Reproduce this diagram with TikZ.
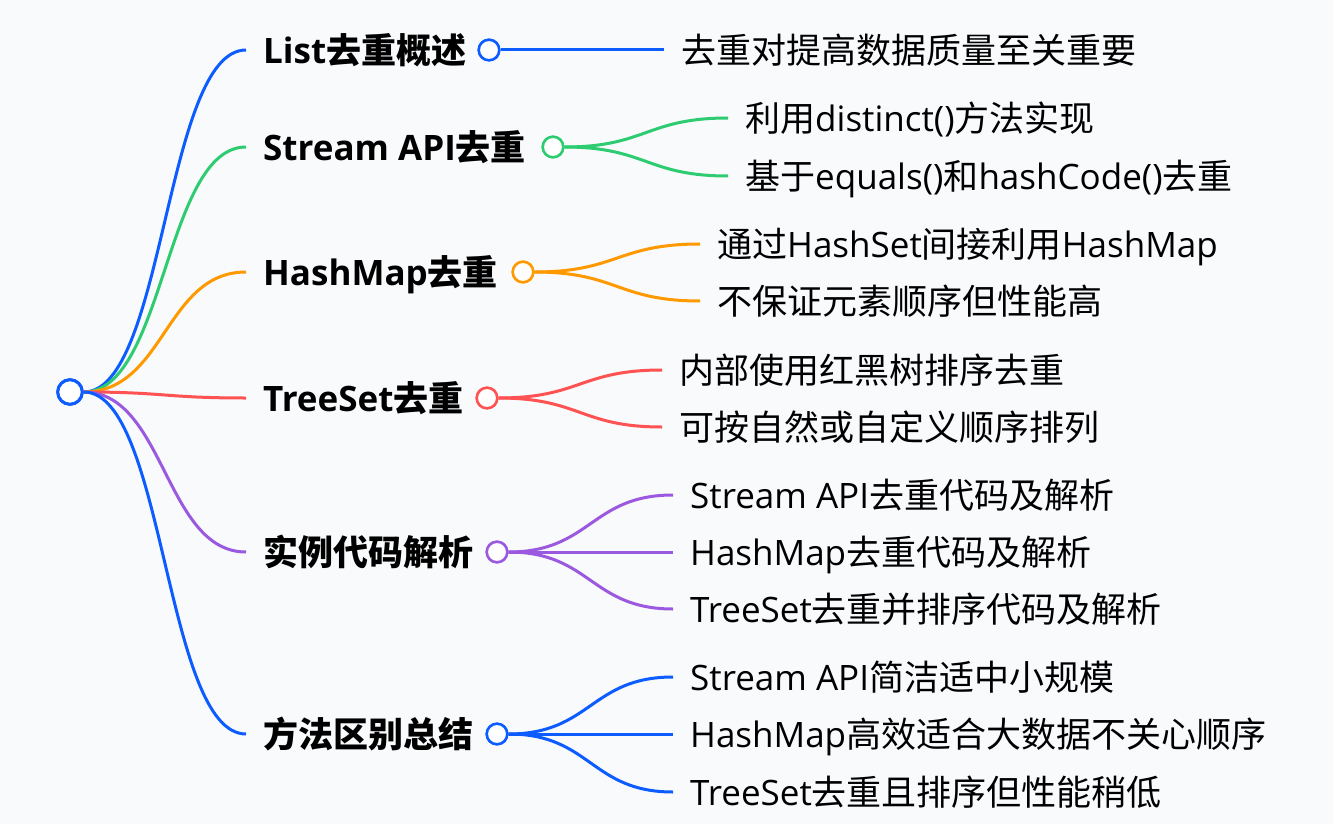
\documentclass[tikz,border=0pt]{standalone}
\usepackage{fontspec}
\setmainfont{Noto Sans CJK SC}
\newfontfamily\enfont{Open Sans}
\newcommand\en[1]{{\enfont #1}}
\usetikzlibrary{calc}

\definecolor{bgcol}{RGB}{248,250,252}
\definecolor{cblue}{RGB}{12,92,255}
\definecolor{cgreen}{RGB}{46,204,113}
\definecolor{corange}{RGB}{255,153,0}
\definecolor{cred}{RGB}{255,82,82}
\definecolor{cpurple}{RGB}{155,89,224}

\tikzset{
  dot/.style={circle, fill=white, line width=2.5pt, minimum size=20.5pt, inner sep=0pt},
  rootdot/.style={dot, line width=3pt, minimum size=24.5pt},
  topic/.style={anchor=west, inner xsep=17pt, inner ysep=0pt, text height=29pt, text depth=2.5pt,
    font=\fontsize{35}{42}\selectfont\bfseries},
  leaf/.style={anchor=west, inner xsep=17pt, inner ysep=0pt, text height=29pt, text depth=2.5pt,
    font=\fontsize{35}{42}\selectfont},
  link/.style={line width=3pt}
}

\begin{document}
\begin{tikzpicture}[x=1pt,y=-1pt]
  \useasboundingbox[fill=bgcol] (0,0) rectangle (1333,824);
  % root
  \node[rootdot, draw=cblue] (root) at (70,392) {};
  % first level: name, y, dot x, colour, label
  \foreach \nm/\ypos/\cx/\col/\lbl in {
    t1/50/489/cblue/{\en{List}去重概述},
    t2/147/553/cgreen/{\en{Stream API}去重},
    t3/272/523/corange/{\en{HashMap}去重},
    t4/398/487/cred/{\en{TreeSet}去重},
    t5/552/497/cpurple/{实例代码解析},
    t6/734/497/cblue/{方法区别总结}}{
    \node[topic] (\nm) at (246,\ypos) {\lbl};
    \node[dot, draw=\col] (\nm-dot) at (\cx,\ypos) {};
    \draw[link, \col] let \p1=(root.east), \p2=(\nm.west) in
      (\p1) .. controls ({(\x1+\x2)/2},\y1) and ({(\x1+\x2)/2},\y2) .. (\p2);
  }
  % leaves: name, parent, x, y, colour, label
  \foreach \nm/\up/\ex/\ypos/\col/\lbl in {
    l1/t1/664/50/cblue/{去重对提高数据质量至关重要},
    l2/t2/728/118/cgreen/{利用\en{distinct()}方法实现},
    l3/t2/728/176/cgreen/{基于\en{equals()}和\en{hashCode()}去重},
    l4/t3/700/244/corange/{通过\en{HashSet}间接利用\en{HashMap}},
    l5/t3/700/301/corange/{不保证元素顺序但性能高},
    l6/t4/662/370/cred/{内部使用红黑树排序去重},
    l7/t4/662/427/cred/{可按自然或自定义顺序排列},
    l8/t5/673/495/cpurple/{\en{Stream API}去重代码及解析},
    l9/t5/673/552/cpurple/{\en{HashMap}去重代码及解析},
    l10/t5/673/609/cpurple/{\en{TreeSet}去重并排序代码及解析},
    l11/t6/673/677/cblue/{\en{Stream API}简洁适中小规模},
    l12/t6/673/734/cblue/{\en{HashMap}高效适合大数据不关心顺序},
    l13/t6/673/792/cblue/{\en{TreeSet}去重且排序但性能稍低}}{
    \node[leaf] (\nm) at (\ex,\ypos) {\lbl};
    \draw[link, \col] let \p1=(\up-dot.east), \p2=(\nm.west) in
      (\p1) .. controls ({(\x1+\x2)/2},\y1) and ({(\x1+\x2)/2},\y2) .. (\p2);
  }
  % dots on top of the links
  \foreach \nm/\col in {t1/cblue,t2/cgreen,t3/corange,t4/cred,t5/cpurple,t6/cblue}{
    \node[dot, draw=\col] at (\nm-dot) {};
  }
  \node[rootdot, draw=cblue] at (root) {};
\end{tikzpicture}
\end{document}
